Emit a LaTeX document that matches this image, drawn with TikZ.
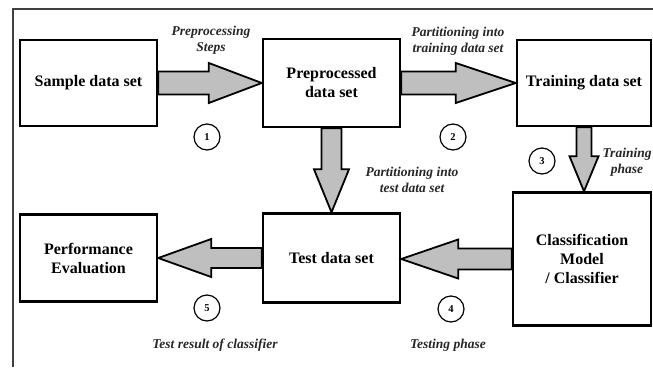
\documentclass[tikz,border=0pt]{standalone}
\usepackage{fontspec}
\setmainfont{Liberation Serif}
\usetikzlibrary{calc}

\tikzset{
  databox/.style={draw, line width=2.4pt, fill=white, align=center,
    font=\bfseries\fontsize{16}{19}\selectfont},
  fatbody/.style={draw, line width=1.8pt, fill=black!25},
  stepnum/.style={circle, draw, line width=1.2pt, minimum size=26pt, inner sep=0pt,
    font=\bfseries\fontsize{10.5}{11}\selectfont},
  note/.style={align=center, text=black!85, font=\bfseries\itshape\fontsize{13.5}{16}\selectfont},
}

% thick block arrow: tail, tip, shaft half width, head half width, head length
\newcommand{\fatarrow}[5]{%
  \path ($(#2)!#5!(#1)$) coordinate (fah);
  \draw[fatbody] ($(#1)!#3!90:(#2)$) -- ($(fah)!#3!-90:(#1)$) -- ($(fah)!#4!-90:(#1)$)
    -- (#2) -- ($(fah)!#4!90:(#1)$) -- ($(fah)!#3!90:(#1)$) -- ($(#1)!#3!-90:(#2)$) -- cycle;
}

\begin{document}
\begin{tikzpicture}[x=1pt, y=-1pt]
  \useasboundingbox (0,0) rectangle (653,367);
  \draw[line width=1.6pt, black!75] (13,367) -- (13,9) -- (653,9);

  \node[databox, minimum width=137pt, minimum height=86pt] (sample) at (88.5,83) {Sample data set};
  \node[databox, minimum width=137pt, minimum height=88pt] (prep) at (331.5,83) {Preprocessed\\data set};
  \node[databox, minimum width=134pt, minimum height=86pt] (train) at (584,83) {Training data set};
  \node[databox, minimum width=137pt, minimum height=87pt] (perf) at (88.5,258) {Performance\\Evaluation};
  \node[databox, minimum width=137pt, minimum height=89pt] (test) at (331.5,258) {Test data set};
  \node[databox, minimum width=138pt, minimum height=133pt] (clf) at (582,259) {Classification\\Model\\/ Classifier};

  \fatarrow{sample.east}{prep.west}{11.5pt}{20pt}{53pt}
  \fatarrow{prep.east}{train.west}{11.5pt}{20pt}{60pt}
  \fatarrow{prep.south}{prep.south |- test.north}{10pt}{17.5pt}{43pt}
  \fatarrow{train.south}{train.south |- clf.north}{7.5pt}{14.5pt}{35pt}
  \fatarrow{clf.west}{clf.west -| test.east}{10.5pt}{19.5pt}{57pt}
  \fatarrow{test.west}{perf.east}{10pt}{19pt}{53pt}

  \node[stepnum] (n1) at (207,137) {1};
  \node[stepnum] (n2) at (453,137) {2};
  \node[stepnum] (n3) at (542,161) {3};
  \node[stepnum] (n4) at (451,309) {4};
  \node[stepnum] (n5) at (207,308) {5};

  \node[note] (t1) at (211,40) {Preprocessing\\Steps};
  \node[note] (t2) at (458,41) {Partitioning into\\training data set};
  \node[note] (t3) at (627,162) {Training\\phase};
  \node[note] (t4) at (412,180) {Partitioning into\\test data set};
  \node[note] (t5) at (448,345) {Testing phase};
  \node[note] (t6) at (215,345) {Test result of classifier};
\end{tikzpicture}
\end{document}
